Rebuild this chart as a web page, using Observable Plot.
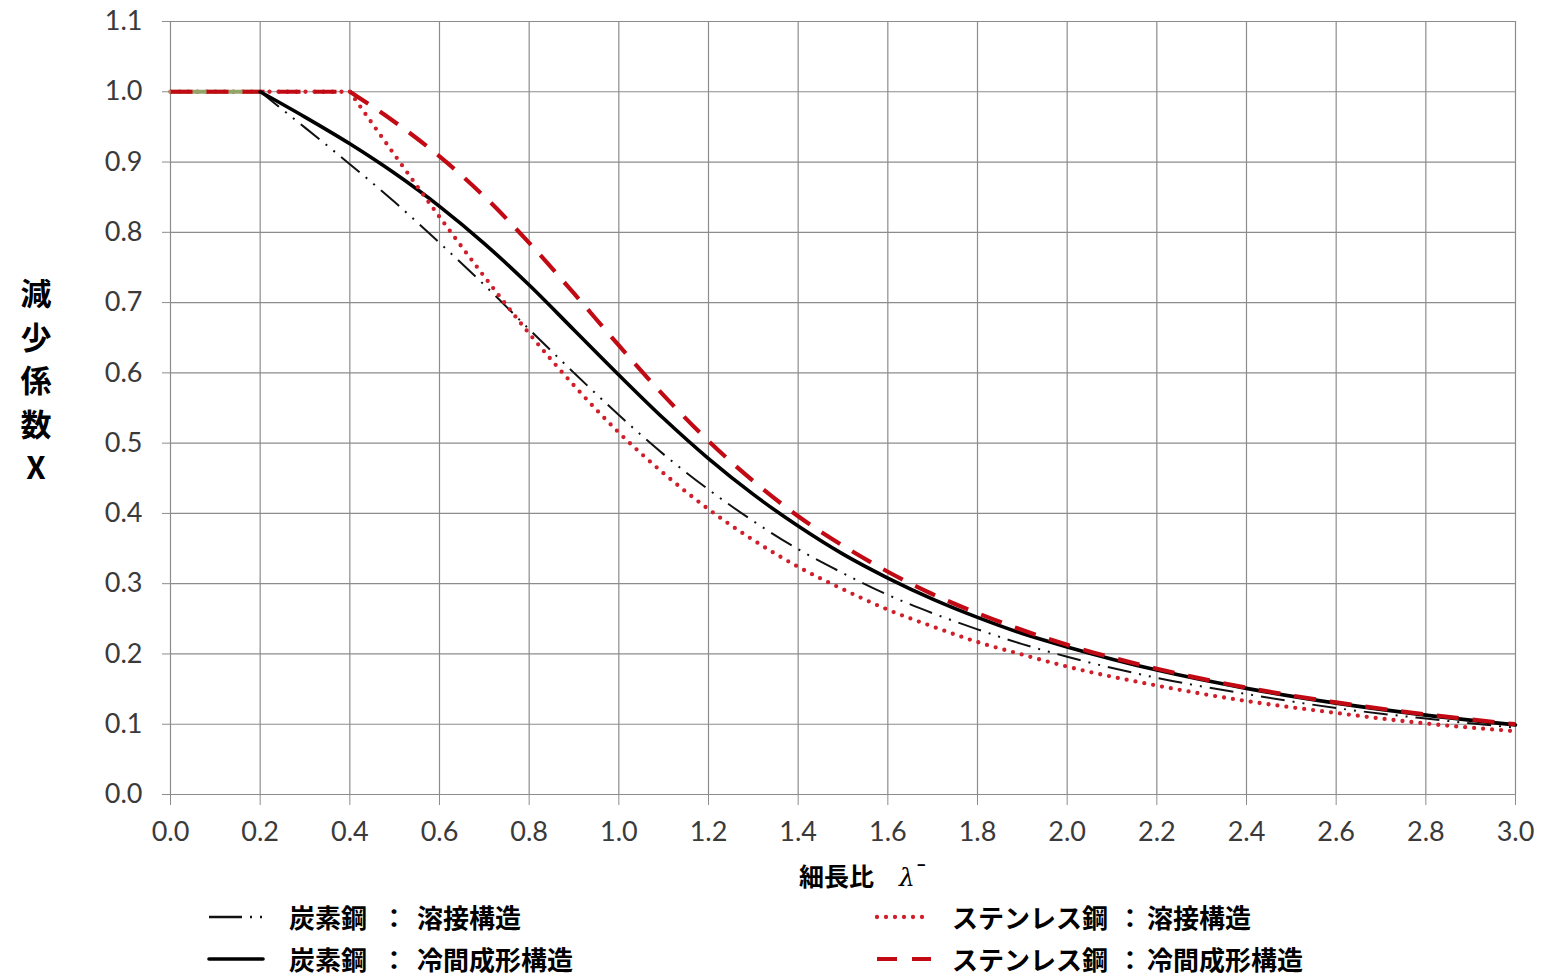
<!DOCTYPE html>
<html>
<head>
<meta charset="utf-8">
<script src="https://cdn.jsdelivr.net/npm/d3@7"></script>
<script src="https://cdn.jsdelivr.net/npm/@observablehq/plot@0.6"></script>
<style>
  html, body { margin: 0; padding: 0; background: #fff; }
  #wrap { position: relative; width: 1547px; height: 976px; overflow: hidden; }
  .jp { font-family: "Noto Sans CJK JP", "Noto Sans", sans-serif; font-weight: 700; color: #000; position: absolute; white-space: nowrap; }
  #ylab { left: 14px; top: 270px; width: 44px; text-align: center; font-size: 31px; line-height: 43.5px; }
  #xlab { font-size: 25px; line-height: 30px; }
  .leg { font-size: 26px; line-height: 26px; }
  .sw { position: absolute; }
</style>
</head>
<body>
<div id="wrap">
  <div id="chart"></div>
  <div id="ylab" class="jp">減<br>少<br>係<br>数<br>X</div>
  <div id="xlab" class="jp" style="left:799px; top:860px;">細長比　<span style="font-style:italic;font-weight:400;font-family:'DejaVu Serif',serif;">λ</span><span style="position:relative;top:-3px;font-weight:400;font-family:'DejaVu Sans',sans-serif;">¯</span></div>
</div>
<script>
// ---- data ----
const lambdas = [0.0,0.2,0.3,0.4,0.5,0.6,0.7,0.8,0.9,1.0,1.1,1.2,1.3,1.4,1.5,1.6,1.7,1.8,1.9,2.0,2.2,2.4,2.6,2.8,3.0];
const carbonWelded    = [1.0,1.0,0.949,0.897,0.843,0.785,0.725,0.662,0.600,0.540,0.484,0.434,0.389,0.349,0.315,0.284,0.258,0.235,0.214,0.196,0.166,0.143,0.123,0.108,0.095];
const carbonCold      = [1.0,1.0,0.964,0.926,0.884,0.837,0.784,0.725,0.661,0.597,0.535,0.478,0.427,0.382,0.342,0.308,0.278,0.252,0.229,0.210,0.177,0.151,0.130,0.113,0.099];
const stainlessWelded = [1.0,1.0,1.0,1.0,0.910,0.822,0.737,0.656,0.582,0.515,0.457,0.406,0.362,0.324,0.292,0.263,0.239,0.217,0.199,0.182,0.155,0.133,0.116,0.101,0.090];
const stainlessCold   = [1.0,1.0,1.0,1.0,0.957,0.908,0.851,0.785,0.713,0.639,0.568,0.503,0.446,0.396,0.354,0.317,0.285,0.258,0.234,0.213,0.179,0.152,0.131,0.114,0.100];
const carbonPlateauEnd = 0.2;
const stainlessPlateauEnd = 0.4;
const xTicks = [0.0,0.2,0.4,0.6,0.8,1.0,1.2,1.4,1.6,1.8,2.0,2.2,2.4,2.6,2.8,3.0];
const yTicks = [0.0,0.1,0.2,0.3,0.4,0.5,0.6,0.7,0.8,0.9,1.0,1.1];
const legendLabels = [
  ["炭素鋼", "溶接構造"],
  ["炭素鋼", "冷間成形構造"],
  ["ステンレス鋼", "溶接構造"],
  ["ステンレス鋼", "冷間成形構造"]
];

// ---- styles ----
const RED = "#c20a14";
const RED_DOT = "#cf1f2a";
const styles = [
  {stroke: "#111", strokeWidth: 2, strokeDasharray: "24,8,2,8,2,8", strokeLinecap: "butt"},
  {stroke: "#000", strokeWidth: 3.6, strokeLinecap: "round"},
  {stroke: RED_DOT, strokeWidth: 4.3, strokeDasharray: "0,9", strokeLinecap: "round"},
  {stroke: RED, strokeWidth: 4.2, strokeDasharray: "22,14", strokeLinecap: "butt"}
];

const series = [carbonWelded, carbonCold, stainlessWelded, stainlessCold];
const ends = [carbonPlateauEnd, carbonPlateauEnd, stainlessPlateauEnd, stainlessPlateauEnd];
const rows = series.map(vals => lambdas.map((x, i) => ({x, y: vals[i]})));
const curves = rows.map((r, k) => r.filter(d => d.x >= ends[k] - 1e-9));
const plateaus = rows.map((r, k) => r.filter(d => d.x <= ends[k] + 1e-9));

const chart = Plot.plot({
  width: 1547,
  height: 976,
  marginLeft: 170,
  marginRight: 32,
  marginTop: 21,
  marginBottom: 182,
  style: {fontFamily: "Lato, 'Open Sans', sans-serif", background: "#fff"},
  x: {domain: [0, 3.0]},
  y: {domain: [0, 1.1]},
  marks: [
    Plot.gridX(xTicks, {stroke: "#8c8c8c", strokeOpacity: 1, strokeWidth: 1.2}),
    Plot.gridY(yTicks, {stroke: "#8c8c8c", strokeOpacity: 1, strokeWidth: 1.2}),
    Plot.axisX(xTicks, {tickFormat: d => d.toFixed(1), tickSize: 11, tickPadding: 16, fontSize: 27, stroke: "#8c8c8c", fill: "#3a3a3a", label: null}),
    Plot.axisY(yTicks, {tickFormat: d => d.toFixed(1), tickSize: 8, tickPadding: 20, fontSize: 27, stroke: "#8c8c8c", fill: "#3a3a3a", label: null}),
    // plateau segments
    Plot.line(plateaus[2], {x: "x", y: "y", ...styles[2]}),
    Plot.line(plateaus[0].filter(d => d.x <= carbonPlateauEnd), {x: "x", y: "y", stroke: "#93a66a", strokeWidth: 4}),
    Plot.line(plateaus[3], {x: "x", y: "y", ...styles[3]}),
    // curves
    Plot.line(curves[0], {x: "x", y: "y", curve: "monotone-x", ...styles[0]}),
    Plot.line(curves[1], {x: "x", y: "y", curve: "monotone-x", ...styles[1]}),
    Plot.line(curves[2], {x: "x", y: "y", curve: "monotone-x", ...styles[2]}),
    Plot.line(curves[3], {x: "x", y: "y", curve: "monotone-x", ...styles[3]})
  ]
});
document.getElementById("chart").appendChild(chart);

// ---- legend ----
const wrap = document.getElementById("wrap");
const legPos = [
  {sx: 207, nx: 289, cx: 381, vx: 417, y: 917},
  {sx: 207, nx: 289, cx: 381, vx: 417, y: 959},
  {sx: 875, nx: 952, cx: 1117, vx: 1147, y: 917},
  {sx: 875, nx: 952, cx: 1117, vx: 1147, y: 959}
];
legendLabels.forEach(([name, kind], k) => {
  const p = legPos[k];
  const st = styles[k];
  const svgNS = "http://www.w3.org/2000/svg";
  const s = document.createElementNS(svgNS, "svg");
  s.setAttribute("width", 60); s.setAttribute("height", 12);
  s.setAttribute("class", "sw");
  s.style.left = p.sx + "px"; s.style.top = (p.y - 6) + "px";
  const l = document.createElementNS(svgNS, "line");
  l.setAttribute("x1", 2); l.setAttribute("x2", 56); l.setAttribute("y1", 6); l.setAttribute("y2", 6);
  l.setAttribute("stroke", st.stroke);
  l.setAttribute("stroke-width", k === 0 ? 2.4 : st.strokeWidth);
  if (k === 0) l.setAttribute("stroke-dasharray", "33,8,2,8,2,8");
  else if (k === 3) l.setAttribute("stroke-dasharray", "20,15");
  else if (st.strokeDasharray) l.setAttribute("stroke-dasharray", st.strokeDasharray);
  l.setAttribute("stroke-linecap", st.strokeLinecap || "butt");
  s.appendChild(l);
  wrap.appendChild(s);
  [[name, p.nx], ["：", p.cx], [kind, p.vx]].forEach(([t, x]) => {
    const d = document.createElement("div");
    d.className = "jp leg";
    d.textContent = t;
    d.style.left = x + "px";
    d.style.top = (p.y - 13) + "px";
    wrap.appendChild(d);
  });
});
</script>
</body>
</html>
